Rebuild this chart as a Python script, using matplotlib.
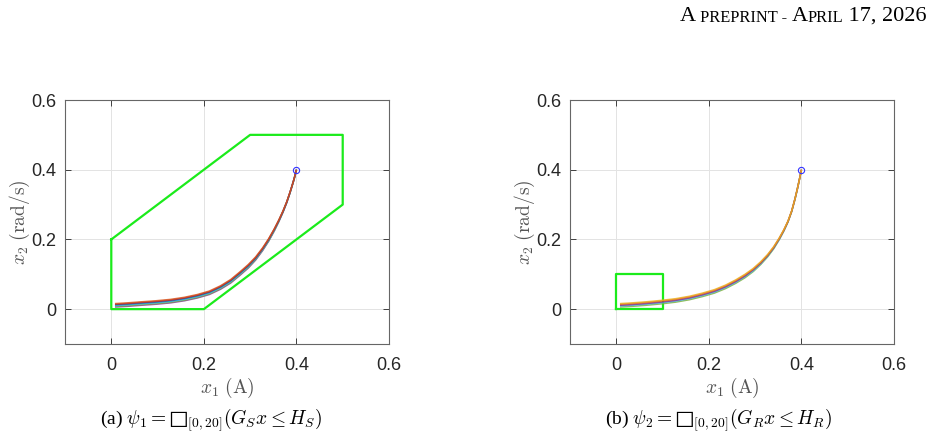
import matplotlib.pyplot as plt
from matplotlib.text import Annotation

plt.rcParams['mathtext.fontset'] = 'cm'

# shared x samples of the closed-loop trajectories (x1, A)
traj_x = [0.400, 0.398, 0.395, 0.391, 0.386, 0.379, 0.371, 0.362, 0.352, 0.340, 0.327, 0.312,
          0.296, 0.278, 0.258, 0.236, 0.212, 0.186, 0.158, 0.128, 0.096, 0.064, 0.034, 0.008]

# panel (a): x2 of each trajectory (bottom of the bundle first)
left_traj = [
    [0.400, 0.389, 0.373, 0.355, 0.333, 0.305, 0.278, 0.251, 0.224, 0.195, 0.168, 0.141,
     0.118, 0.097, 0.075, 0.057, 0.042, 0.032, 0.024, 0.018, 0.014, 0.011, 0.008, 0.006],
    [0.400, 0.389, 0.373, 0.355, 0.333, 0.306, 0.279, 0.252, 0.225, 0.196, 0.170, 0.143,
     0.120, 0.099, 0.077, 0.059, 0.044, 0.034, 0.026, 0.020, 0.016, 0.013, 0.010, 0.008],
    [0.400, 0.389, 0.373, 0.355, 0.334, 0.306, 0.280, 0.253, 0.226, 0.198, 0.171, 0.145,
     0.122, 0.101, 0.079, 0.061, 0.046, 0.036, 0.028, 0.022, 0.018, 0.015, 0.012, 0.010],
    [0.400, 0.389, 0.374, 0.356, 0.334, 0.307, 0.280, 0.254, 0.228, 0.199, 0.173, 0.146,
     0.124, 0.103, 0.081, 0.063, 0.048, 0.038, 0.030, 0.024, 0.020, 0.017, 0.014, 0.012],
    [0.400, 0.389, 0.374, 0.356, 0.335, 0.307, 0.281, 0.255, 0.229, 0.201, 0.174, 0.148,
     0.126, 0.105, 0.083, 0.065, 0.050, 0.040, 0.032, 0.026, 0.022, 0.019, 0.016, 0.014],
    [0.400, 0.389, 0.374, 0.356, 0.335, 0.308, 0.282, 0.256, 0.230, 0.202, 0.176, 0.150,
     0.128, 0.107, 0.085, 0.067, 0.052, 0.042, 0.034, 0.028, 0.024, 0.021, 0.018, 0.016],
]
left_colors = ['#7E2F8E', '#77AC30', '#4DBEEE', '#0072BD', '#A2142F', '#D95319']

# panel (b)
right_traj = [
    [0.400, 0.387, 0.368, 0.343, 0.315, 0.280, 0.250, 0.224, 0.199, 0.173, 0.150, 0.128,
     0.108, 0.090, 0.074, 0.059, 0.046, 0.036, 0.027, 0.020, 0.015, 0.011, 0.008, 0.006],
    [0.400, 0.387, 0.368, 0.343, 0.315, 0.281, 0.251, 0.225, 0.200, 0.175, 0.152, 0.130,
     0.110, 0.093, 0.077, 0.062, 0.049, 0.039, 0.030, 0.023, 0.018, 0.014, 0.011, 0.009],
    [0.400, 0.387, 0.368, 0.344, 0.316, 0.281, 0.252, 0.226, 0.202, 0.176, 0.154, 0.132,
     0.113, 0.095, 0.079, 0.064, 0.051, 0.041, 0.032, 0.025, 0.020, 0.016, 0.013, 0.011],
    [0.400, 0.387, 0.368, 0.344, 0.316, 0.282, 0.252, 0.227, 0.203, 0.178, 0.155, 0.134,
     0.115, 0.098, 0.082, 0.067, 0.054, 0.044, 0.035, 0.028, 0.023, 0.019, 0.016, 0.014],
    [0.400, 0.387, 0.368, 0.344, 0.316, 0.282, 0.253, 0.228, 0.204, 0.179, 0.157, 0.136,
     0.117, 0.100, 0.084, 0.069, 0.056, 0.046, 0.037, 0.030, 0.025, 0.021, 0.018, 0.016],
]
right_colors = ['#77AC30', '#4DBEEE', '#7E2F8E', '#D95319', '#EDB120']

x0 = [0.4]
y0 = [0.4]

# safe sets
left_set_x = [0.0, 0.3, 0.5, 0.5, 0.2, 0.0, 0.0]
left_set_y = [0.2, 0.5, 0.5, 0.3, 0.0, 0.0, 0.2]
right_set_x = [0.0, 0.1, 0.1, 0.0, 0.0]
right_set_y = [0.0, 0.0, 0.1, 0.1, 0.0]

ticks = [0, 0.2, 0.4, 0.6]
tick_labels = ['0', '0.2', '0.4', '0.6']

captions = ['(a) $\\psi_1 = \u25a1_{[0,20]}(G_S x \\leq H_S)$',
            '(b) $\\psi_2 = \u25a1_{[0,20]}(G_R x \\leq H_R)$']

fig = plt.figure(figsize=(9.4, 4.38), dpi=100)

panels = [
    ([65 / 940, 94 / 438, 324 / 940, 244 / 438], left_traj, left_colors, left_set_x, left_set_y, 211),
    ([570 / 940, 94 / 438, 324 / 940, 244 / 438], right_traj, right_colors, right_set_x, right_set_y, 719),
]

for (rect, trajs, cols, sx, sy, cap_x), cap in zip(panels, captions):
    ax = fig.add_axes(rect)
    ax.plot(sx, sy, color='#1BEB1B', lw=1.6, zorder=2)
    for ys, c in zip(trajs, cols):
        ax.plot(traj_x, ys, color=c, lw=1.1, alpha=0.8, zorder=3,
                solid_capstyle='butt')
    ax.plot(x0, y0, 'o', mfc='none', mec='#3333FF', ms=4.5, mew=0.8, zorder=4)

    ax.set_xlim(-0.1, 0.6)
    ax.set_ylim(-0.1, 0.6)
    ax.set_xticks(ticks, tick_labels)
    ax.set_yticks(ticks, tick_labels)
    for lab in ax.get_xticklabels() + ax.get_yticklabels():
        lab.set_family('Liberation Sans')
    ax.grid(True, color='#e3e3e3', lw=0.7, zorder=0)
    ax.set_axisbelow(True)
    ax.tick_params(direction='in', length=4, width=0.6, colors='#262626',
                   labelsize=13, top=True, right=True)
    ax.tick_params(axis='x', pad=9)
    ax.tick_params(axis='y', pad=6)
    for s in ax.spines.values():
        s.set_color('#666666')
        s.set_linewidth(0.8)
    ax.set_xlabel(r'$x_1\ (\mathrm{A})$', fontsize=14, color='#555555', labelpad=2)
    ax.set_ylabel(r'$x_2\ (\mathrm{rad/s})$', fontsize=14, color='#555555', labelpad=0)

    fig.text(cap_x / 940, 1 - 420 / 438, cap, ha='center', va='center',
             fontsize=14, family='Liberation Serif')

# running header in small caps, built piece by piece
parts = [(' PREPRINT - ', 11.8), ('A', 16), ('PRIL', 11.8), (' 17, 2026', 16)]
cur = fig.text(680 / 940, 1 - 21 / 438, 'A', fontsize=16,
               family='Liberation Serif', va='baseline', ha='left')
for txt, fs in parts:
    cur = fig.add_artist(Annotation(txt, xy=(1, 0), xycoords=cur, fontsize=fs,
                                    family='Liberation Serif', va='bottom', ha='left',
                                    annotation_clip=False))

fig.savefig('out.png', dpi=100)
